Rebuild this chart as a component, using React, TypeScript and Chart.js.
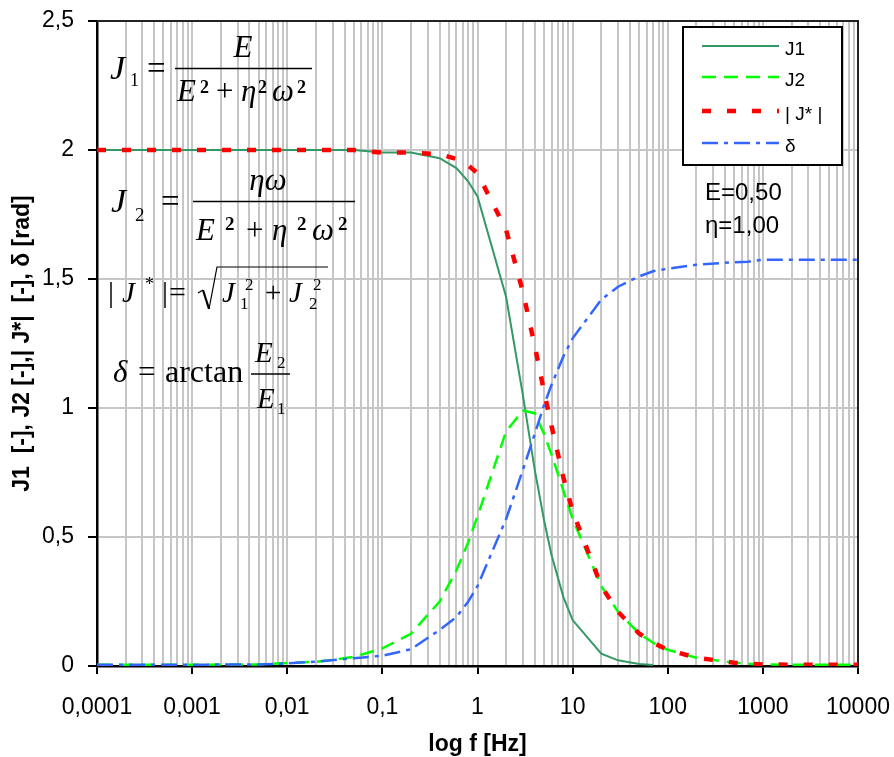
import React, { useEffect, useRef } from 'react';
import { Chart, registerables } from 'chart.js';

Chart.register(...registerables);

// ---------- data ----------
const freq = [0.0001, 0.001, 0.005, 0.01, 0.02, 0.05, 0.1, 0.2, 0.4, 0.6, 0.8, 1, 2, 3, 4, 5, 6, 8, 10, 20, 30, 50, 70, 100, 200, 500, 700, 1000, 2000, 5000, 10000];
const j1 = [2, 2, 2, 2, 2, 2, 1.99, 1.99, 1.968, 1.93, 1.878, 1.82, 1.43, 1.05, 0.76, 0.566, 0.43, 0.267, 0.178, 0.048, 0.022, 0.008, 0.004, null, null, null, null, null, null, null, null];
const j2 = [0.005, 0.005, 0.006, 0.012, 0.016, 0.035, 0.068, 0.125, 0.25, 0.37, 0.48, 0.58, 0.91, 0.99, 0.98, 0.9, 0.82, 0.68, 0.57, 0.31, 0.21, 0.126, 0.09, 0.063, 0.032, 0.013, 0.009, 0.006, 0.005, 0.005, 0.005];
const jStar = [2, 2, 2, 2, 2, 2, 1.99, 1.99, 1.984, 1.965, 1.94, 1.91, 1.69, 1.45, 1.24, 1.065, 0.93, 0.73, 0.6, 0.31, 0.21, 0.126, 0.09, 0.063, 0.032, 0.013, 0.009, 0.006, 0.005, 0.005, 0.005];
const delta = [0.005, 0.005, 0.006, 0.01, 0.017, 0.03, 0.04, 0.065, 0.14, 0.19, 0.25, 0.31, 0.57, 0.76, 0.9, 1.01, 1.09, 1.2, 1.27, 1.42, 1.47, 1.51, 1.53, 1.54, 1.555, 1.565, 1.567, 1.575, 1.575, 1.575, 1.575];

const seriesLabels = ['J1', 'J2', '| J* |', 'δ'];
const xTickLabels = ['0,0001', '0,001', '0,01', '0,1', '1', '10', '100', '1000', '10000'];
const yTickLabels = ['0', '0,5', '1', '1,5', '2', '2,5'];
const paramLines = ['E=0,50', 'η=1,00'];
const xTitle = 'log f [Hz]';
const yTitle = 'J1  [-], J2 [-],| J*|  [-], δ [rad]';

const SANS = "'Liberation Sans', Arial, sans-serif";
const SERIF = "'Liberation Serif', 'Times New Roman', serif";

const parseNum = (s: string) => Number(s.replace(',', '.'));
const xDecades = xTickLabels.map(parseNum);
const yValues = yTickLabels.map(parseNum);

function buildXTicks() {
  const out: { value: number; major: boolean }[] = [];
  xDecades.forEach((d, i) => {
    out.push({ value: d, major: true });
    if (i < xDecades.length - 1) {
      for (let m = 2; m <= 9; m++) out.push({ value: Number((m * d).toPrecision(6)), major: false });
    }
  });
  return out;
}

const findIdx = (arr: number[], v: number) => arr.findIndex((d) => Math.abs(d - v) <= Math.abs(d) * 1e-9 + 1e-12);

// ---------- overlay drawing ----------
const I = (s: number) => `italic ${s}px ${SERIF}`;
const R = (s: number) => `${s}px ${SERIF}`;
const B = (s: number) => `bold ${s}px ${SERIF}`;

function txt(ctx: CanvasRenderingContext2D, t: string, x: number, y: number, font: string, align: CanvasTextAlign = 'left') {
  ctx.font = font;
  ctx.textAlign = align;
  ctx.fillText(t, x, y);
}
function hline(ctx: CanvasRenderingContext2D, x1: number, x2: number, y: number, w = 1.3) {
  ctx.beginPath();
  ctx.lineWidth = w;
  ctx.moveTo(x1, y);
  ctx.lineTo(x2, y);
  ctx.stroke();
}

function drawFormulas(ctx: CanvasRenderingContext2D) {
  ctx.save();
  ctx.fillStyle = '#000';
  ctx.strokeStyle = '#000';
  ctx.textBaseline = 'alphabetic';
  ctx.setLineDash([]);
  // J1 = E / (E² + η²ω²)
  txt(ctx, 'J', 110, 79, I(34));
  txt(ctx, '1', 130, 86, R(18));
  txt(ctx, '=', 147, 79, R(33));
  hline(ctx, 175, 312, 68.5);
  txt(ctx, 'E', 243, 57, I(31), 'center');
  txt(ctx, 'E', 177, 101, I(31));
  txt(ctx, '2', 200, 93, B(18));
  txt(ctx, '+', 216, 101, R(31));
  txt(ctx, 'η', 241, 101, I(31));
  txt(ctx, '2', 258, 93, B(18));
  txt(ctx, 'ω', 272, 101, I(31));
  txt(ctx, '2', 297, 93, B(18));

  // J2 = ηω / (E² + η²ω²)
  txt(ctx, 'J', 111, 212, I(34));
  txt(ctx, '2', 135, 221, R(19));
  txt(ctx, '=', 161, 212, R(33));
  hline(ctx, 193, 355, 201.5);
  txt(ctx, 'ηω', 268, 190, I(31), 'center');
  txt(ctx, 'E', 196, 240, I(31));
  txt(ctx, '2', 225, 230, B(19));
  txt(ctx, '+', 246, 240, R(31));
  txt(ctx, 'η', 272, 240, I(31));
  txt(ctx, '2', 297, 230, B(19));
  txt(ctx, 'ω', 312, 240, I(31));
  txt(ctx, '2', 338, 230, B(19));

  // |J*| = sqrt(J1² + J2²)
  txt(ctx, '|', 108, 302, R(30));
  txt(ctx, 'J', 122, 302, I(29));
  txt(ctx, '*', 145, 290, R(18));
  txt(ctx, '|', 162, 302, R(30));
  txt(ctx, '=', 169, 302, R(30));
  ctx.beginPath();
  ctx.lineWidth = 1.3;
  ctx.moveTo(198, 293);
  ctx.lineTo(203, 290);
  ctx.stroke();
  ctx.beginPath();
  ctx.lineWidth = 2.2;
  ctx.moveTo(203, 290);
  ctx.lineTo(209, 309);
  ctx.stroke();
  ctx.beginPath();
  ctx.lineWidth = 1.2;
  ctx.moveTo(209, 309);
  ctx.lineTo(217, 267);
  ctx.lineTo(328, 267);
  ctx.stroke();
  txt(ctx, 'J', 222, 302, I(29));
  txt(ctx, '2', 245, 290, R(17));
  txt(ctx, '1', 240, 309, R(17));
  txt(ctx, '+', 265, 302, R(29));
  txt(ctx, 'J', 289, 302, I(29));
  txt(ctx, '2', 313, 290, R(17));
  txt(ctx, '2', 309, 309, R(17));

  // δ = arctan E2/E1
  txt(ctx, 'δ', 113, 382, I(31));
  txt(ctx, '=', 138, 382, R(31));
  txt(ctx, 'arctan', 165, 382, R(32));
  txt(ctx, 'E', 255, 362, I(29));
  txt(ctx, '2', 277, 368, R(17));
  hline(ctx, 251, 290, 374);
  txt(ctx, 'E', 257, 408, I(29));
  txt(ctx, '1', 277, 414, R(17));
  ctx.restore();
}

const overlayPlugin = {
  id: 'overlay',
  beforeDatasetsDraw(chart: any) {
    const { ctx, chartArea: a } = chart;
    ctx.save();
    ctx.strokeStyle = '#222';
    ctx.lineWidth = 2;
    ctx.setLineDash([]);
    ctx.beginPath();
    ctx.moveTo(a.left, a.top);
    ctx.lineTo(a.right, a.top);
    ctx.lineTo(a.right, a.bottom);
    ctx.stroke();
    ctx.restore();
    drawFormulas(ctx);
    // parameters
    ctx.save();
    ctx.fillStyle = '#000';
    ctx.textBaseline = 'alphabetic';
    paramLines.forEach((t, i) => txt(ctx, t, 705, 200 + i * 33, `24px ${SANS}`));
    ctx.restore();
  },
  afterDatasetsDraw(chart: any) {
    const { ctx } = chart;
    ctx.save();
    // legend box
    ctx.fillStyle = '#fff';
    ctx.fillRect(683, 27, 159, 138);
    ctx.strokeStyle = '#000';
    ctx.lineWidth = 2;
    ctx.setLineDash([]);
    ctx.strokeRect(683, 27, 159, 138);
    const rows = [46, 77, 111, 143];
    chart.data.datasets.forEach((ds: any, i: number) => {
      ctx.beginPath();
      ctx.strokeStyle = ds.borderColor;
      ctx.lineWidth = ds.borderWidth;
      ctx.lineCap = 'butt';
      ctx.setLineDash(ds.borderDash || []);
      ctx.moveTo(702, rows[i]);
      ctx.lineTo(779, rows[i]);
      ctx.stroke();
      ctx.setLineDash([]);
      ctx.fillStyle = '#000';
      ctx.textBaseline = 'middle';
      txt(ctx, ds.label, 785, rows[i] + 4, `19px ${SANS}`);
    });
    ctx.restore();
  },
};

const zeroPad = (s: any) => {
  s.paddingLeft = 0;
  s.paddingRight = 0;
  s.paddingTop = 0;
  s.paddingBottom = 0;
};

export default function App() {
  const ref = useRef<HTMLCanvasElement>(null);

  useEffect(() => {
    const canvas = ref.current;
    if (!canvas) return;
    Chart.defaults.font.family = SANS;
    Chart.defaults.color = '#000';
    const mk = (vals: (number | null)[]) => freq.map((f, i) => ({ x: f, y: vals[i] }));
    const chart = new Chart(canvas, {
      type: 'line',
      data: {
        datasets: [
          { label: seriesLabels[0], data: mk(j1), borderColor: '#339966', borderWidth: 2, borderDash: [], pointRadius: 0, fill: false, tension: 0, order: 3 },
          { label: seriesLabels[1], data: mk(j2), borderColor: '#00FF00', borderWidth: 2.5, borderDash: [14, 8], pointRadius: 0, fill: false, tension: 0, order: 2 },
          { label: seriesLabels[2], data: mk(jStar), borderColor: '#FF0000', borderWidth: 4.5, borderDash: [9, 16], pointRadius: 0, fill: false, tension: 0, order: 1 },
          { label: seriesLabels[3], data: mk(delta), borderColor: '#3366FF', borderWidth: 2.5, borderDash: [16, 6, 4, 6], pointRadius: 0, fill: false, tension: 0, order: 0 },
        ],
      } as any,
      options: {
        responsive: false,
        devicePixelRatio: 1,
        animation: false,
        layout: { padding: { left: 0, right: 36, top: 21, bottom: 0 } },
        plugins: { legend: { display: false }, tooltip: { enabled: false }, title: { display: false } },
        scales: {
          x: {
            type: 'logarithmic',
            min: xDecades[0],
            max: xDecades[xDecades.length - 1],
            afterBuildTicks: (s: any) => { s.ticks = buildXTicks(); },
            afterFit: (s: any) => { s.height = 91; zeroPad(s); },
            ticks: {
              autoSkip: false,
              maxRotation: 0,
              padding: 20,
              font: { size: 23 },
              color: '#000',
              callback: (v: any) => { const k = findIdx(xDecades, Number(v)); return k >= 0 ? xTickLabels[k] : ''; },
            },
            grid: {
              color: '#c6c6c6',
              lineWidth: 2,
              drawTicks: true,
              tickLength: 8,
              tickWidth: 2,
              tickColor: (c: any) => (c.tick && c.tick.major ? '#000' : 'rgba(0,0,0,0)'),
            },
            border: { display: true, color: '#000', width: 2.5 },
            title: { display: true, text: xTitle, font: { size: 23, weight: 'bold', lineHeight: 1 }, padding: { top: 0, bottom: 1 }, color: '#000' },
          },
          y: {
            type: 'linear',
            min: yValues[0],
            max: yValues[yValues.length - 1],
            afterBuildTicks: (s: any) => { s.ticks = yValues.map((v) => ({ value: v })); },
            afterFit: (s: any) => { s.width = 97; zeroPad(s); },
            ticks: {
              padding: 14,
              font: { size: 23 },
              color: '#000',
              callback: (v: any) => { const k = findIdx(yValues, Number(v)); return k >= 0 ? yTickLabels[k] : ''; },
            },
            grid: { color: '#c6c6c6', lineWidth: 2, drawTicks: true, tickLength: 9, tickWidth: 2, tickColor: '#000' },
            border: { display: true, color: '#000', width: 2.5 },
            title: { display: true, text: yTitle, font: { size: 23, weight: 'bold', lineHeight: 1 }, padding: { top: 11, bottom: 0 }, color: '#000' },
          },
        },
      } as any,
      plugins: [overlayPlugin],
    });
    return () => chart.destroy();
  }, []);

  return (
    <div style={{ position: 'absolute', left: 0, top: 0, width: 894, height: 757, background: '#fff' }}>
      <canvas ref={ref} width={894} height={757} style={{ display: 'block', width: 894, height: 757 }} />
    </div>
  );
}
